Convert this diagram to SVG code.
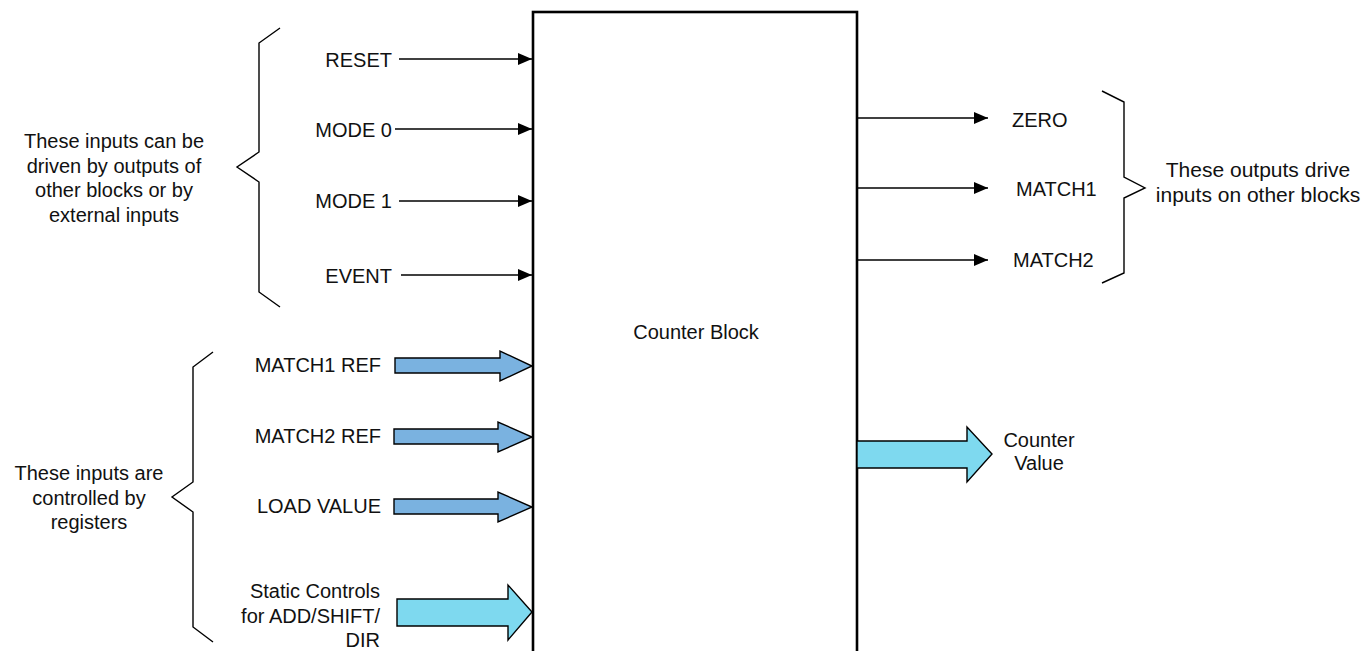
<svg xmlns="http://www.w3.org/2000/svg" width="1366" height="651" viewBox="0 0 1366 651">
<style>
text{font-family:"Liberation Sans",Arial,sans-serif;font-size:20px;fill:#111}
.e{text-anchor:end}
.m{text-anchor:middle}
.big{font-size:21px}
.ln{stroke:#000;stroke-width:1.6;fill:none}
.br{stroke:#000;stroke-width:1.4;fill:none}
.ba{stroke:#000;stroke-width:1.4;stroke-linejoin:miter}
.blue{fill:#7ab2e0}
.cyan{fill:#7ed9ef}
</style>
<defs>
<marker id="ah" markerUnits="userSpaceOnUse" markerWidth="14" markerHeight="12" refX="14" refY="6" orient="auto">
<path d="M0,0 L14,6 L0,12 Z" fill="#000"/>
</marker>
</defs>
<rect width="1366" height="651" fill="#fff"/>
<g id="counter-block">
<rect x="533" y="12" width="324" height="660" fill="#fff" stroke="#000" stroke-width="2.6"/>
<text x="696" y="339" class="m">Counter Block</text>
</g>
<g id="connectors">
<line class="ln" x1="399" y1="59" x2="532" y2="59" marker-end="url(#ah)"/>
<line class="ln" x1="395" y1="129" x2="532" y2="129" marker-end="url(#ah)"/>
<line class="ln" x1="399" y1="201" x2="532" y2="201" marker-end="url(#ah)"/>
<line class="ln" x1="401" y1="275" x2="532" y2="275" marker-end="url(#ah)"/>
<line class="ln" x1="857" y1="118" x2="988" y2="118" marker-end="url(#ah)"/>
<line class="ln" x1="857" y1="188" x2="988" y2="188" marker-end="url(#ah)"/>
<line class="ln" x1="857" y1="260" x2="988" y2="260" marker-end="url(#ah)"/>
<polygon class="ba blue" points="395,358 500,358 500,351 532,366 500,381 500,373 395,373"/>
<polygon class="ba blue" points="394,429 498,429 498,422 532,437 498,452 498,444 394,444"/>
<polygon class="ba blue" points="394,499 498,499 498,492 532,507 498,522 498,514 394,514"/>
<polygon class="ba cyan" points="397,599 508,599 508,585 532,612 508,640 508,626 397,626"/>
<polygon class="ba cyan" points="857,441 967,441 967,427 992,454 967,482 967,468 857,468"/>
</g>
<g id="inputs-labels">
<text x="392" y="67" class="e">RESET</text>
<text x="392" y="137" class="e">MODE 0</text>
<text x="392" y="208" class="e">MODE 1</text>
<text x="392" y="283" class="e">EVENT</text>
<text x="381" y="372" class="e">MATCH1 REF</text>
<text x="381" y="443" class="e">MATCH2 REF</text>
<text x="381" y="513" class="e">LOAD VALUE</text>
<text x="380" y="598" class="e">Static Controls</text>
<text x="380" y="623" class="e">for ADD/SHIFT/</text>
<text x="380" y="647" class="e">DIR</text>
</g>
<g id="outputs-labels">
<text x="1012" y="127">ZERO</text>
<text x="1016" y="196">MATCH1</text>
<text x="1013" y="267">MATCH2</text>
<text x="1039" y="447" class="m">Counter</text>
<text x="1039" y="470" class="m">Value</text>
</g>
<g id="brace-external">
<path class="br" d="M280,28 L259,43 L259,152 L237,167 L259,182 L259,292 L280,307"/>
<text x="114" y="148" class="m">These inputs can be</text>
<text x="114" y="173" class="m">driven by outputs of</text>
<text x="114" y="197" class="m">other blocks or by</text>
<text x="114" y="222" class="m">external inputs</text>
</g>
<g id="brace-registers">
<path class="br" d="M213,352 L193,367 L193,482 L172,497 L193,512 L193,627 L213,642"/>
<text x="89" y="480" class="m">These inputs are</text>
<text x="89" y="505" class="m">controlled by</text>
<text x="89" y="529" class="m">registers</text>
</g>
<g id="brace-outputs">
<path class="br" d="M1102,91 L1124,102 L1124,177 L1145,188 L1124,198 L1124,273 L1102,283"/>
<text x="1258" y="177" class="m big">These outputs drive</text>
<text x="1258" y="202" class="m big">inputs on other blocks</text>
</g>
</svg>
